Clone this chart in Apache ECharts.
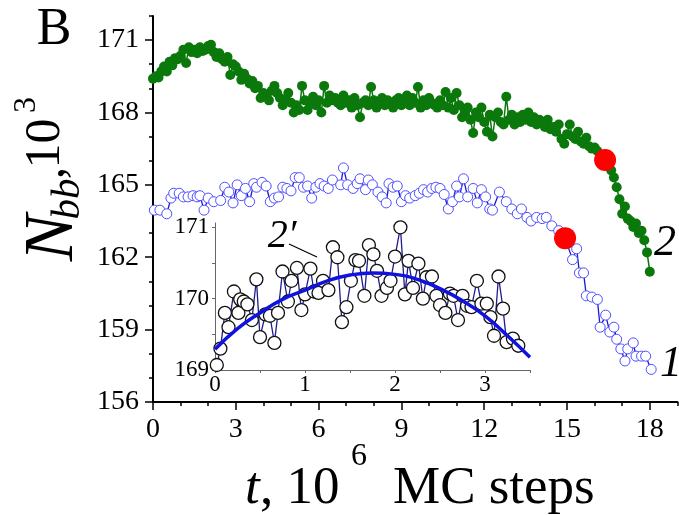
<!DOCTYPE html>
<html>
<head>
<meta charset="utf-8">
<script src="https://cdn.jsdelivr.net/npm/echarts@6/dist/echarts.min.js"></script>
<style>
html,body{margin:0;padding:0;background:#fff;}
#c{width:679px;height:515px;}
</style>
</head>
<body>
<div id="c"></div>
<script>
// ---------- data ----------
// main x axis tick labels (10^6 MC steps) and y axis tick labels (10^3)
var xTickLabels = [0, 3, 6, 9, 12, 15, 18];
var yTickLabels = [156, 159, 162, 165, 168, 171];

// curve 2 (green, filled circles), sampled every 0.1 x 10^6 MC steps starting at t = 0
var greenStart = 0;
var greenStep = 0.1;
var greenValues = [
  169.4, 169.5, 169.45, 169.7, 169.9, 169.7, 170.1, 169.95, 170.25, 170.2,
  170.35, 170.6, 170.05, 170.7, 170.5, 170.6, 170.45, 170.7, 170.55, 170.6,
  170.75, 170.8, 170.5, 170.3, 170.45, 170.2, 170.1, 170.3, 169.55, 170.0,
  169.9, 169.7, 169.35, 169.6, 169.4, 169.2, 169.3, 169.0, 169.1, 168.6,
  168.8, 168.7, 168.5, 168.9, 169.1, 168.8, 168.6, 168.3, 168.5, 168.8,
  168.4, 168.0, 168.3, 168.1, 169.1, 168.5, 168.1, 168.4, 168.65, 168.3,
  168.5, 168.0, 169.1, 168.4, 168.7, 168.5, 168.6, 168.4, 168.3, 168.7,
  168.4, 168.5, 168.2, 168.6, 168.3, 167.8, 168.4, 168.5, 168.3, 169.05,
  168.5, 168.2, 168.45, 168.6, 168.3, 168.5, 168.4, 168.2, 168.5, 168.6,
  168.3, 168.5, 168.7, 168.3, 168.6, 168.4, 169.05, 168.2, 168.5, 168.3,
  168.6, 168.4, 168.3, 168.2, 168.5, 168.3, 168.85, 168.2, 168.6, 168.1,
  168.8, 168.3, 167.8, 168.0, 168.2, 167.7, 167.15, 168.0, 167.8, 168.2,
  167.6, 167.2, 167.9, 167.0, 167.8, 168.0, 167.6, 167.5, 168.65, 167.7,
  167.9, 167.5, 167.8, 167.6, 167.9, 167.7, 168.0, 167.6, 167.8, 167.5,
  167.7, 167.6, 167.4, 167.7, 167.3, 167.4, 167.2, 167.5, 166.9, 166.7,
  167.1, 167.5, 167.0, 166.9, 167.2, 166.8, 166.7, 166.95, 166.6, 166.5,
  166.55, 166.4, 166.2, 166.1, 166.0, 165.8, 165.6, 165.3, 164.9, 164.4,
  163.8, 164.1, 163.6, 163.5, 163.25, 163.4, 163.0, 163.1, 162.7, 162.2,
  161.4
];

// curve 1 (blue, open circles)
var blueT = [
  0.05, 0.25, 0.5, 0.65, 0.75, 0.95, 1.1, 1.27, 1.45, 1.6,
  1.7, 1.85, 2.0, 2.2, 2.45, 2.6, 2.75, 2.9, 3.05, 3.2,
  3.35, 3.5, 3.65, 3.75, 3.95, 4.1, 4.25, 4.4, 4.55, 4.7,
  4.85, 5.0, 5.15, 5.3, 5.45, 5.6, 5.75, 5.9, 6.05, 6.2,
  6.35, 6.5, 6.8, 6.9, 7.05, 7.25, 7.4, 7.5, 7.7, 7.8,
  7.95, 8.15, 8.3, 8.45, 8.55, 8.7, 8.85, 9.0, 9.15, 9.3,
  9.5, 9.65, 9.8, 9.95, 10.1, 10.25, 10.4, 10.55, 10.7, 10.85,
  11.0, 11.1, 11.25, 11.4, 11.6, 11.75, 11.9, 12.05, 12.2, 12.3,
  12.55, 12.8, 13.0, 13.2, 13.35, 13.55, 13.7, 13.9, 14.1, 14.25,
  14.45, 14.7, 14.93, 15.2, 15.35, 15.45, 15.6, 15.7, 15.9, 16.1,
  16.2, 16.4, 16.55, 16.7, 16.8, 16.95, 17.1, 17.2, 17.4, 17.5,
  17.7, 17.85, 18.05
];
var blueV = [
  163.95, 163.95, 163.8, 164.45, 164.65, 164.65, 164.5, 164.5, 164.55, 164.5,
  164.55, 163.95, 164.45, 164.3, 164.35, 164.9, 164.7, 164.25, 165.0, 164.55,
  164.85, 164.3, 165.05, 164.9, 165.1, 164.95, 164.3, 164.45, 164.5, 164.9,
  164.85, 164.75, 165.3, 165.3, 164.9, 164.95, 164.45, 164.9, 165.05, 164.95,
  164.85, 165.2, 165.0, 165.7, 165.0, 164.85, 165.05, 165.25, 164.8, 165.2,
  165.0, 164.7, 164.5, 164.25, 165.05, 164.9, 164.95, 164.3, 164.55, 164.45,
  164.55, 164.65, 164.8, 164.7, 164.85, 164.9, 164.85, 164.6, 164.0, 164.3,
  164.95, 164.5, 165.25, 164.5, 164.85, 164.25, 164.8, 164.5, 164.0, 163.95,
  164.7, 164.3, 164.0, 163.8, 164.0, 163.65, 163.5, 163.65, 163.6, 163.65,
  163.3, 163.1, 162.8, 161.9, 162.35, 161.35, 161.35, 160.4, 160.35, 160.25,
  159.1, 159.6, 158.9, 159.1, 158.6, 158.2, 157.7, 158.2, 158.45, 157.9,
  157.9, 157.9, 157.35
];

// highlighted (red) points
var redT = [14.93, 16.38];
var redV = [162.79, 166.03];

// inset: curve 2' (black open circles)
var insetT = [
  0.02, 0.06, 0.11, 0.15, 0.21, 0.26, 0.28, 0.32, 0.36, 0.41,
  0.46, 0.5, 0.56, 0.61, 0.66, 0.7, 0.75, 0.81, 0.85, 0.91,
  0.96, 1.0, 1.06, 1.1, 1.15, 1.2, 1.26, 1.31, 1.36, 1.41,
  1.46, 1.51, 1.56, 1.6, 1.66, 1.71, 1.76, 1.8, 1.85, 1.91,
  1.95, 2.0, 2.06, 2.11, 2.15, 2.2, 2.26, 2.31, 2.35, 2.41,
  2.46, 2.5, 2.56, 2.61, 2.65, 2.7, 2.75, 2.8, 2.85, 2.91,
  2.96, 3.02, 3.06, 3.1, 3.15, 3.2, 3.24, 3.31, 3.37
];
var insetV = [
  169.07, 169.3, 169.8, 169.6, 170.1, 169.8, 169.99, 169.96, 169.92, 169.7,
  170.27, 169.46, 169.78, 169.76, 169.38, 169.8, 170.38, 169.96, 170.25, 170.43,
  169.84, 170.06, 170.42, 170.1, 170.08, 170.25, 170.12, 170.72, 170.58, 169.67,
  169.88, 170.25, 170.54, 170.53, 170.04, 170.75, 170.62, 170.39, 170.04, 170.15,
  170.25, 170.59, 171.0, 170.06, 170.53, 170.15, 170.49, 170.0, 170.3, 170.31,
  170.04, 169.91, 169.8, 170.07, 170.04, 169.7, 170.04, 169.9, 169.88, 170.25,
  169.93, 169.93, 169.74, 169.48, 170.31, 169.86, 169.39, 169.44, 169.34
];
// inset fitted curve
var fitT = [0, 0.25, 0.5, 0.75, 1, 1.25, 1.5, 1.75, 2, 2.25, 2.5, 2.75, 3, 3.25, 3.5];
var fitV = [169.29, 169.58, 169.8, 169.99, 170.12, 170.25, 170.33, 170.36, 170.34, 170.27, 170.14, 169.97, 169.76, 169.48, 169.18];

var insetXLabels = [0, 1, 2, 3];
var insetYLabels = [169, 170, 171];

// ---------- build ----------
function zip(a, b) { var r = []; for (var i = 0; i < a.length; i++) r.push([a[i], b[i]]); return r; }
var greenData = greenValues.map(function (v, i) { return [+(greenStart + i * greenStep).toFixed(2), v]; });

var xMinor = [], yMinor = [];
for (var i = 0; i <= 19; i++) if (i % 3 !== 0) xMinor.push(i);
for (var j = 156; j <= 172; j++) if ((j - 156) % 3 !== 0) yMinor.push(j);
var insetXTicks = [0, 0.5, 1, 1.5, 2, 2.5, 3, 3.5];
var insetYTicks = [169, 169.5, 170, 170.5, 171];

var FF = '"Liberation Serif"';

function txt(text, x, y, size, italic, rot, align) {
  var st = { text: text, fill: '#000', fontSize: size, fontFamily: FF, align: align || 'center', verticalAlign: 'middle' };
  if (italic) st.fontStyle = 'italic';
  return { type: 'text', x: x, y: y, rotation: rot || 0, z: 100, style: st };
}

var option = {
  animation: true,
  animationDuration: 150,
  animationDurationUpdate: 150,
  animationEasing: 'linear',
  backgroundColor: '#fff',
  grid: [
    { left: 153, top: 15.9, width: 524.4, height: 386.1, containLabel: false, outerBoundsMode: 'none' },
    { left: 215, top: 223, width: 315, height: 147, containLabel: false, outerBoundsMode: 'none' }
  ],
  xAxis: [
    {
      gridIndex: 0, type: 'value', min: 0, max: 19, interval: 1,
      axisLine: { show: true, onZero: false, lineStyle: { color: '#000', width: 2 } },
      axisTick: { show: true, inside: false, length: 8, customValues: xTickLabels, lineStyle: { color: '#000', width: 1.5 } },
      axisLabel: { show: true, customValues: xTickLabels, margin: 14, fontSize: 28, fontFamily: FF, color: '#000' },
      splitLine: { show: false }
    },
    {
      gridIndex: 0, type: 'value', min: 0, max: 19, interval: 1, position: 'bottom',
      axisLine: { show: false, onZero: false },
      axisTick: { show: true, inside: false, length: 4, customValues: xMinor, lineStyle: { color: '#000', width: 1.5 } },
      axisLabel: { show: false },
      splitLine: { show: false }
    },
    {
      gridIndex: 1, type: 'value', min: 0, max: 3.5, interval: 0.5,
      axisLine: { show: true, onZero: false, lineStyle: { color: '#666', width: 1 } },
      axisTick: { show: true, inside: false, length: 3, customValues: insetXTicks, lineStyle: { color: '#666', width: 1 } },
      axisLabel: { show: true, customValues: insetXLabels, margin: 3, fontSize: 23, fontFamily: FF, color: '#000' },
      splitLine: { show: false }
    }
  ],
  yAxis: [
    {
      gridIndex: 0, type: 'value', min: 156, max: 172, interval: 1,
      axisLine: { show: true, onZero: false, lineStyle: { color: '#000', width: 2 } },
      axisTick: { show: true, inside: false, length: 8, customValues: yTickLabels, lineStyle: { color: '#000', width: 1.5 } },
      axisLabel: { show: true, customValues: yTickLabels, margin: 14, fontSize: 28, fontFamily: FF, color: '#000' },
      splitLine: { show: false }
    },
    {
      gridIndex: 0, type: 'value', min: 156, max: 172, interval: 1, position: 'left',
      axisLine: { show: false, onZero: false },
      axisTick: { show: true, inside: false, length: 4, customValues: yMinor, lineStyle: { color: '#000', width: 1.5 } },
      axisLabel: { show: false },
      splitLine: { show: false }
    },
    {
      gridIndex: 1, type: 'value', min: 169, max: 171.06, interval: 0.5,
      axisLine: { show: true, onZero: false, lineStyle: { color: '#666', width: 1 } },
      axisTick: { show: true, inside: false, length: 3, customValues: insetYTicks, lineStyle: { color: '#666', width: 1 } },
      axisLabel: { show: true, customValues: insetYLabels, margin: 6, fontSize: 23, fontFamily: FF, color: '#000' },
      splitLine: { show: false }
    }
  ],
  series: [
    {
      type: 'line', xAxisIndex: 0, yAxisIndex: 0, data: zip(blueT, blueV),
      symbol: 'circle', symbolSize: 10, showSymbol: true,
      itemStyle: { color: '#ffffff', borderColor: '#4f4fff', borderWidth: 1 },
      lineStyle: { color: '#1818d0', width: 1.3 }, z: 2
    },
    {
      type: 'line', xAxisIndex: 0, yAxisIndex: 0, data: greenData,
      symbol: 'circle', symbolSize: 10, showSymbol: true,
      itemStyle: { color: '#0b780b', borderWidth: 0 },
      lineStyle: { color: '#0b780b', width: 1.5 }, z: 2
    },
    {
      type: 'scatter', xAxisIndex: 0, yAxisIndex: 0, data: zip(redT, redV),
      symbol: 'circle', symbolSize: 22,
      itemStyle: { color: '#ff0000', opacity: 1 }, z: 5
    },
    {
      type: 'line', xAxisIndex: 2, yAxisIndex: 2, data: zip(insetT, insetV),
      symbol: 'circle', symbolSize: 13, showSymbol: true,
      itemStyle: { color: '#ffffff', borderColor: '#111111', borderWidth: 1.3 },
      lineStyle: { color: '#1c1c8c', width: 1.3 }, z: 3
    },
    {
      type: 'line', xAxisIndex: 2, yAxisIndex: 2, data: zip(fitT, fitV),
      symbol: 'none', smooth: true,
      lineStyle: { color: '#1212e0', width: 3.5 }, z: 4
    }
  ],
  graphic: [
    txt('B', 54, 30, 52, false),
    // y axis title  N_bb, 10^3 (rotated)
    txt('N', 54, 238, 70, true, Math.PI / 2),
    txt('bb', 68, 199, 41, true, Math.PI / 2),
    txt(',', 50, 173, 50, false, Math.PI / 2),
    txt('10', 45.5, 143.5, 50, false, Math.PI / 2),
    txt('3', 26.5, 105, 32, false, Math.PI / 2),
    // x axis title  t, 10^6 MC steps
    txt('t', 245, 489, 53, true, 0, 'left'),
    txt(', 10', 260, 489, 53, false, 0, 'left'),
    txt('6', 359, 457, 32, false),
    txt('MC steps', 393, 489, 53, false, 0, 'left'),
    // curve labels
    txt('1', 671, 364, 44, true),
    txt('2', 665, 243, 44, true),
    txt('2\u2032', 282, 236, 40, true),
    {
      type: 'line', z: 100,
      shape: { x1: 289, y1: 244, x2: 317, y2: 257 },
      style: { stroke: '#000', lineWidth: 1.2 }
    }
  ]
};

var chart = echarts.init(document.getElementById('c'));
chart.setOption(option);
</script>
</body>
</html>
